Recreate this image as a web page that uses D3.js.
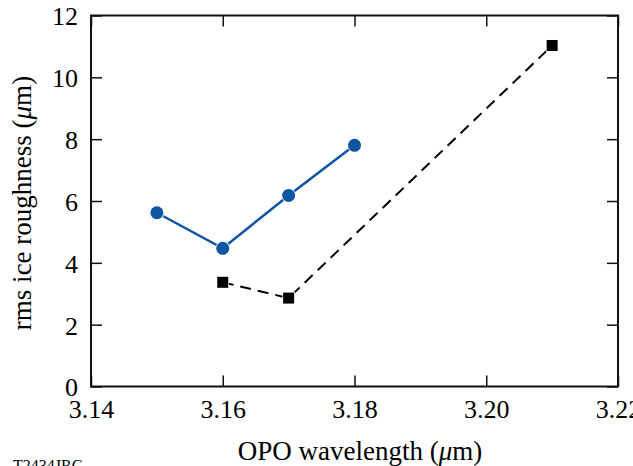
<!DOCTYPE html>
<meta charset="utf-8">
<style>
body { margin: 0; background: #fff; }
svg text { font-family: "Liberation Serif", "Times New Roman", serif; fill: #000; }
.tick text { font-size: 26px; }
.axis path, .axis line { stroke: #111; stroke-width: 1.5; }
</style>
<svg width="633" height="466"></svg>
<script src="https://cdn.jsdelivr.net/npm/d3@7"></script>
<script>

var xTicks = [3.14, 3.16, 3.18, 3.20, 3.22],
    yTicks = [0, 2, 4, 6, 8, 10, 12];

// blue circles, solid line
var circleX = [3.15, 3.16, 3.17, 3.18],
    circleY = [5.62, 4.47, 6.18, 7.80];

// black squares, dashed line
var squareX = [3.16, 3.17, 3.21],
    squareY = [3.37, 2.86, 11.03];

var svg = d3.select("svg"),
    pLeft = 91, pRight = 618, pTop = 15.5, pBottom = 386.5;

var x = d3.scaleLinear().domain([3.14, 3.22]).range([pLeft, pRight]);
var y = d3.scaleLinear().domain([0, 12]).range([pBottom, pTop]);

var tick = 11;

// bottom axis with labels
svg.append("g")
    .attr("class", "axis")
    .attr("transform", "translate(0," + pBottom + ")")
    .call(d3.axisBottom(x).tickValues(xTicks).tickFormat(d3.format(".2f"))
      .tickSizeInner(-tick).tickSizeOuter(0).tickPadding(13))
    .call(function(g) { g.select(".domain").remove(); });

// top axis
svg.append("g")
    .attr("class", "axis")
    .attr("transform", "translate(0," + pTop + ")")
    .call(d3.axisTop(x).tickValues(xTicks).tickFormat("").tickSizeInner(-tick).tickSizeOuter(0))
    .call(function(g) { g.select(".domain").remove(); });

// left axis with labels
svg.append("g")
    .attr("class", "axis")
    .attr("transform", "translate(" + pLeft + ",0)")
    .call(d3.axisLeft(y).tickValues(yTicks).tickSizeInner(-tick).tickSizeOuter(0).tickPadding(13))
    .call(function(g) {
      g.select(".domain").remove();
      g.selectAll(".tick text").attr("dy", "0.36em");
    });

// right axis
svg.append("g")
    .attr("class", "axis")
    .attr("transform", "translate(" + pRight + ",0)")
    .call(d3.axisRight(y).tickValues(yTicks).tickFormat("").tickSizeInner(-tick).tickSizeOuter(0))
    .call(function(g) { g.select(".domain").remove(); });

// frame
svg.append("rect")
    .attr("x", pLeft).attr("y", pTop)
    .attr("width", pRight - pLeft).attr("height", pBottom - pTop)
    .attr("fill", "none").attr("stroke", "#111").attr("stroke-width", 2);

var line = d3.line()
    .x(function(d) { return x(d[0]); })
    .y(function(d) { return y(d[1]); });

var circles = d3.zip(circleX, circleY),
    squares = d3.zip(squareX, squareY);

svg.append("path")
    .datum(squares)
    .attr("d", line)
    .attr("fill", "none")
    .attr("stroke", "#000")
    .attr("stroke-width", 2)
    .attr("stroke-dasharray", "11,7");

svg.selectAll(".sq")
    .data(squares)
  .enter().append("rect")
    .attr("class", "sq")
    .attr("x", function(d) { return x(d[0]) - 5.5; })
    .attr("y", function(d) { return y(d[1]) - 5.5; })
    .attr("width", 11).attr("height", 11)
    .attr("fill", "#000")
    .attr("stroke", "#fff")
    .attr("stroke-width", 1.5)
    .attr("paint-order", "stroke");

svg.append("path")
    .datum(circles)
    .attr("d", line)
    .attr("fill", "none")
    .attr("stroke", "#0b55a3")
    .attr("stroke-width", 2.5);

svg.selectAll(".dot")
    .data(circles)
  .enter().append("circle")
    .attr("class", "dot")
    .attr("cx", function(d) { return x(d[0]); })
    .attr("cy", function(d) { return y(d[1]); })
    .attr("r", 6.5)
    .attr("fill", "#0b55a3")
    .attr("stroke", "#fff")
    .attr("stroke-width", 1.5)
    .attr("paint-order", "stroke");

// axis titles
var xt = svg.append("text")
    .attr("x", 360).attr("y", 460)
    .attr("text-anchor", "middle")
    .attr("font-size", 27);
xt.append("tspan").text("OPO wavelength (");
xt.append("tspan").attr("font-style", "italic").text("\u03bc");
xt.append("tspan").text("m)");

var yt = svg.append("text")
    .attr("transform", "translate(31,203) rotate(-90)")
    .attr("text-anchor", "middle")
    .attr("font-size", 27);
yt.append("tspan").text("rms ice roughness (");
yt.append("tspan").attr("font-style", "italic").text("\u03bc");
yt.append("tspan").text("m)");

svg.append("text")
    .attr("x", 13).attr("y", 471)
    .attr("font-size", 16)
    .text("T2434JRC");

</script>
